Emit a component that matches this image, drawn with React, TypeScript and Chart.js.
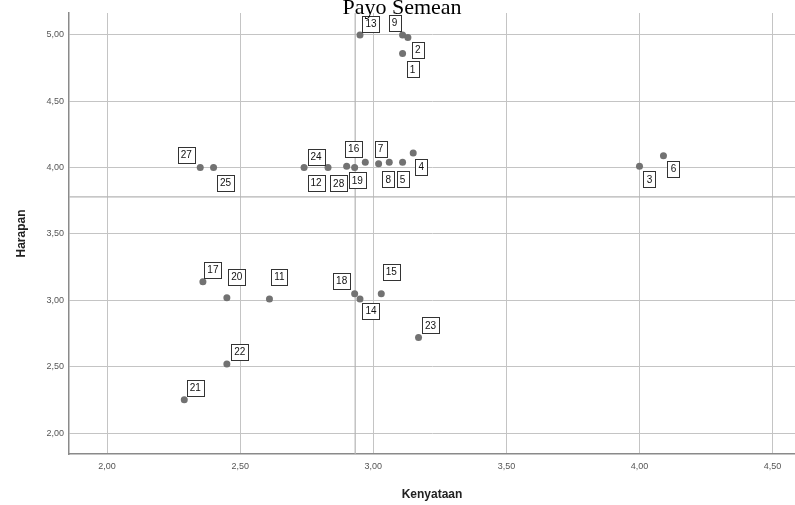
import React, { useEffect, useRef } from "react";
import { Chart, registerables } from "chart.js";

Chart.register(...registerables);

// ---- data ----
const CASE_LABELS = ["13", "9", "2", "1", "27", "25", "24", "12", "28", "16", "19", "7", "8", "5", "4", "3", "6", "17", "20", "11", "18", "14", "15", "23", "22", "21"];
const KENYATAAN = [2.95, 3.11, 3.13, 3.11, 2.35, 2.40, 2.74, 2.83, 2.90, 2.93, 2.97, 3.02, 3.06, 3.11, 3.15, 4.00, 4.09, 2.36, 2.45, 2.61, 2.93, 2.95, 3.03, 3.17, 2.45, 2.29];
const HARAPAN = [5.00, 5.00, 4.98, 4.86, 4.00, 4.00, 4.00, 4.00, 4.01, 4.00, 4.04, 4.03, 4.04, 4.04, 4.11, 4.01, 4.09, 3.14, 3.02, 3.01, 3.05, 3.01, 3.05, 2.72, 2.52, 2.25];
const MEAN_KENYATAAN = 2.932;
const MEAN_HARAPAN = 3.78;
const X_TICKS = [2.0, 2.5, 3.0, 3.5, 4.0, 4.5];
const Y_TICKS = [2.0, 2.5, 3.0, 3.5, 4.0, 4.5, 5.0];
const TITLE = "Payo Semean";
const X_TITLE = "Kenyataan";
const Y_TITLE = "Harapan";

// label placement (px offsets of the label box centre from its point)
const LABEL_OFFSETS: [number, number][] = [
  [11, -11], [-8, -12], [10, 12], [10, 16],
  [-14, -13], [12, 15], [12, -11], [-12, 15], [-8, 17], [-1, -19], [-8, 18], [2, -15], [-1, 17], [0, 17], [8, 14],
  [10, 13], [10, 13],
  [10, -12], [10, -21], [10, -22], [-13, -13], [11, 12], [10, -22], [12, -12], [13, -12], [11, -12],
];

const X_MIN = 1.857;
const X_MAX = 4.586;
const Y_MIN = 1.842;
const Y_MAX = 5.165;

const fmt = (v: number) => v.toFixed(2).replace(".", ",");

const labelPlugin = {
  id: "caseLabels",
  afterDatasetsDraw(chart: any) {
    const meta = chart.getDatasetMeta(0);
    const ctx = chart.ctx;
    ctx.save();
    ctx.font = '10px "Liberation Sans", Arial, sans-serif';
    ctx.textAlign = "center";
    ctx.textBaseline = "middle";
    meta.data.forEach((pt: any, i: number) => {
      const [dx, dy] = LABEL_OFFSETS[i];
      const cx = pt.x + dx;
      const cy = pt.y + dy;
      const t = CASE_LABELS[i];
      const w = Math.round(ctx.measureText(t).width + 6);
      const h = 16;
      const bx = Math.round(cx - w / 2);
      const by = Math.round(cy - h / 2);
      ctx.fillStyle = "#ffffff";
      ctx.fillRect(bx, by, w, h);
      ctx.strokeStyle = "#333333";
      ctx.lineWidth = 1;
      ctx.strokeRect(bx + 0.5, by + 0.5, w, h);
      ctx.fillStyle = "#111111";
      ctx.fillText(t, cx, cy + 0.5);
    });
    ctx.restore();
  },
};

const textPlugin = {
  id: "texts",
  afterDraw(chart: any) {
    const ctx = chart.ctx;
    ctx.save();
    ctx.fillStyle = "#000000";
    ctx.textAlign = "center";
    ctx.textBaseline = "alphabetic";
    ctx.font = '22px "Liberation Serif", "Times New Roman", serif';
    ctx.fillText(TITLE, 402, 14);
    ctx.fillStyle = "#222222";
    ctx.font = 'bold 12px "Liberation Sans", Arial, sans-serif';
    ctx.textBaseline = "middle";
    ctx.fillText(X_TITLE, 432, 495);
    ctx.translate(22, (chart.chartArea.top + chart.chartArea.bottom) / 2);
    ctx.rotate(-Math.PI / 2);
    ctx.fillText(Y_TITLE, 0, 0);
    ctx.restore();
  },
};

export default function App() {
  const ref = useRef<HTMLCanvasElement | null>(null);
  useEffect(() => {
    if (!ref.current) return;
    const points = KENYATAAN.map((x, i) => ({ x, y: HARAPAN[i] }));
    const chart = new Chart(ref.current, {
      type: "scatter",
      data: {
        datasets: [
          {
            label: "cases",
            data: points,
            pointRadius: 3.5,
            pointHoverRadius: 3.5,
            pointBackgroundColor: "#727272",
            pointBorderWidth: 0,
            order: 0,
          },
          {
            label: "meanX",
            type: "line",
            data: [{ x: MEAN_KENYATAAN, y: Y_MIN }, { x: MEAN_KENYATAAN, y: Y_MAX }],
            borderColor: "#b4b4b4",
            borderWidth: 1.2,
            pointRadius: 0,
            order: 2,
          } as any,
          {
            label: "meanY",
            type: "line",
            data: [{ x: X_MIN, y: MEAN_HARAPAN }, { x: X_MAX, y: MEAN_HARAPAN }],
            borderColor: "#b4b4b4",
            borderWidth: 1.2,
            pointRadius: 0,
            order: 2,
          } as any,
        ],
      },
      options: {
        animation: false,
        responsive: false,
        devicePixelRatio: 1,
        layout: { padding: { top: 13, left: 0, right: 0, bottom: 0 } },
        plugins: { legend: { display: false }, tooltip: { enabled: false }, title: { display: false } },
        scales: {
          x: {
            type: "linear",
            min: X_MIN,
            max: X_MAX,
            afterBuildTicks: (s: any) => { s.ticks = X_TICKS.map((v) => ({ value: v })); },
            afterFit: (s: any) => { s.height = 51; s.paddingRight = 0; s.paddingLeft = 0; },
            ticks: {
              callback: (v: any) => fmt(Number(v)),
              color: "#555555",
              font: { family: '"Liberation Sans", Arial, sans-serif', size: 9 },
              padding: 7,
              maxRotation: 0,
              autoSkip: false,
            },
            grid: { color: "#c4c4c4", lineWidth: 1, drawTicks: false },
            border: { display: true, color: "#8a8a8a", width: 1.5 },
          },
          y: {
            type: "linear",
            min: Y_MIN,
            max: Y_MAX,
            afterBuildTicks: (s: any) => { s.ticks = Y_TICKS.map((v) => ({ value: v })); },
            afterFit: (s: any) => { s.width = 69; s.paddingTop = 0; s.paddingBottom = 0; },
            ticks: {
              callback: (v: any) => fmt(Number(v)),
              color: "#555555",
              font: { family: '"Liberation Sans", Arial, sans-serif', size: 9 },
              padding: 5,
              autoSkip: false,
            },
            grid: { color: "#c4c4c4", lineWidth: 1, drawTicks: false },
            border: { display: true, color: "#8a8a8a", width: 1.5 },
          },
        },
      },
      plugins: [labelPlugin, textPlugin],
    });
    return () => chart.destroy();
  }, []);
  return (
    <div style={{ position: "fixed", left: 0, top: 0, width: 795, height: 505, overflow: "hidden", background: "#fff" }}>
      <canvas ref={ref} width={799} height={505} style={{ width: 799, height: 505, display: "block" }} />
    </div>
  );
}
